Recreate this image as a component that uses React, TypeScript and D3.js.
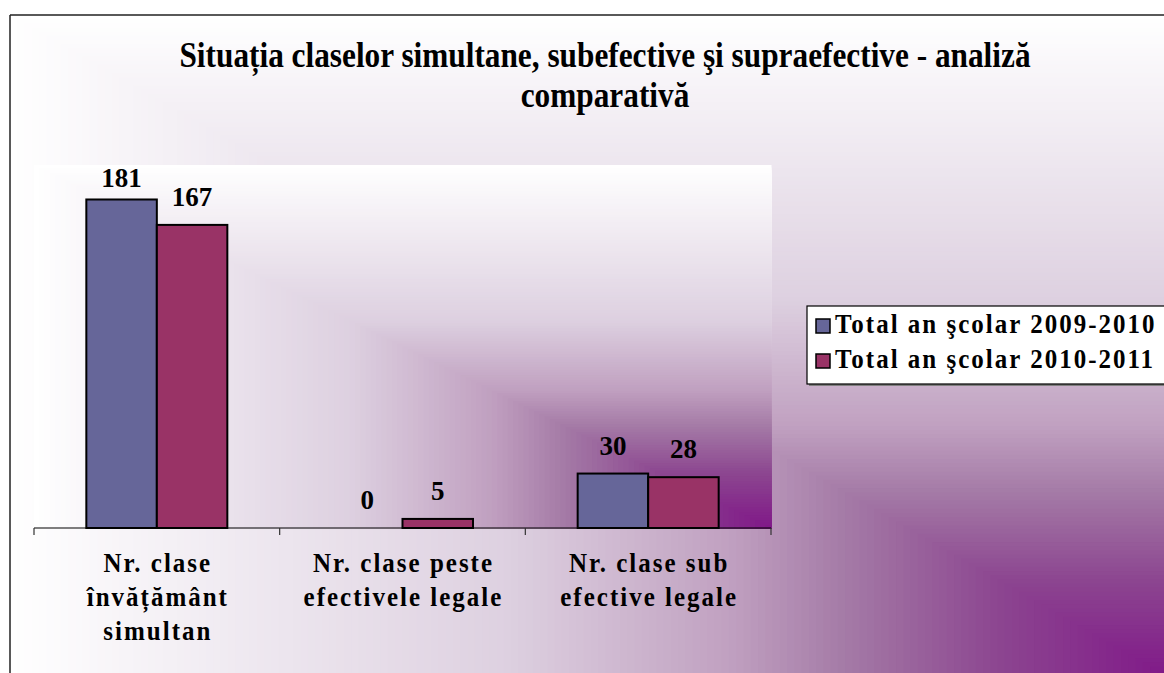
import React from "react";
import * as d3 from "d3";

// ---- data ----
const categories: string[][] = [
  ["Nr. clase", "învățământ", "simultan"],
  ["Nr. clase peste", "efectivele legale"],
  ["Nr. clase sub", "efective legale"],
];
const series2009: number[] = [181, 0, 30];
const series2010: number[] = [167, 5, 28];
const seriesNames: string[] = ["Total an şcolar 2009-2010", "Total an şcolar 2010-2011"];
const seriesColors: string[] = ["#666699", "#993366"];
const titleLines: string[] = [
  "Situația claselor simultane, subefective şi supraefective - analiză",
  "comparativă",
];
const yDomain: number[] = [0, 200];

// background ramp (white -> purple)
const rampStops = [0, 0.43, 0.62, 0.72, 0.85, 1];
const rampColors = ["#ffffff", "#ddd0e0", "#c0a0c0", "#a47aa6", "#8c4690", "#801888"];

const FONT = "'Liberation Serif', 'Times New Roman', Times, serif";

const ramp = d3
  .scaleLinear<string>()
  .domain(rampStops)
  .range(rampColors)
  .interpolate(d3.interpolateRgb)
  .clamp(true);

function cornerGradient(x0: number, y0: number, x1: number, y1: number, n: number, key: string) {
  const w = x1 - x0;
  const h = y1 - y0;
  return d3.range(n).map((k) => {
    const c = k / n;
    return (
      <rect
        key={key + k}
        x={x0 + c * w}
        y={y0 + c * h}
        width={w * (1 - c) + 0.5}
        height={h * (1 - c) + 0.5}
        fill={ramp((k + 0.5) / n)}
      />
    );
  });
}

function StretchText(props: {
  x: number;
  y: number;
  sy: number;
  anchor?: string;
  size: number;
  ls?: number;
  children: React.ReactNode;
}) {
  return (
    <text
      transform={`translate(${props.x},${props.y}) scale(1,${props.sy})`}
      x={0}
      y={0}
      textAnchor={props.anchor || "start"}
      fontSize={props.size}
      fontWeight="bold"
      letterSpacing={props.ls || 0}
      fill="#000"
    >
      {props.children}
    </text>
  );
}

export default function App() {
  const W = 1164;
  const H = 673;
  const plot = { x0: 34, x1: 771, y0: 165, y1: 528 };

  const x = d3
    .scaleBand<number>()
    .domain(d3.range(categories.length))
    .range([plot.x0, plot.x1])
    .paddingInner(0.426)
    .paddingOuter(0.213);
  const xs = d3.scaleBand<number>().domain([0, 1]).range([0, x.bandwidth()]);
  const y = d3.scaleLinear().domain(yDomain).range([plot.y1, plot.y0]);

  const step = x.step();
  const tickXs = d3.range(categories.length + 1).map((i) => plot.x0 + i * step);
  const series = [series2009, series2010];

  return (
    <svg
      width={W}
      height={H}
      style={{ position: "absolute", left: 0, top: 0, background: "#ffffff" }}
      fontFamily={FONT}
    >
      {/* outer chart area */}
      {cornerGradient(10, 15, 1172, 679, 160, "o")}
      <line x1={10} y1={15} x2={W} y2={15} stroke="#222" strokeWidth={1.5} />
      <line x1={10} y1={15} x2={10} y2={H} stroke="#222" strokeWidth={1.5} />

      {/* plot area */}
      {cornerGradient(plot.x0, plot.y0, plot.x1, plot.y1, 140, "p")}

      {/* title */}
      {titleLines.map((t, i) => (
        <StretchText key={t} x={605} y={67 + i * 40} sy={1.12} anchor="middle" size={31.3}>
          {t}
        </StretchText>
      ))}

      {/* bars */}
      {series.map((vals, si) =>
        vals.map((v, ci) => {
          const bx = (x(ci) as number) + (xs(si) as number);
          const by = y(v);
          return v > 0 ? (
            <rect
              key={`b${si}-${ci}`}
              x={bx}
              y={by}
              width={xs.bandwidth()}
              height={y(0) - by}
              fill={seriesColors[si]}
              stroke="#000"
              strokeWidth={2}
            />
          ) : null;
        })
      )}

      {/* axis */}
      <line x1={plot.x0} y1={plot.y1} x2={plot.x1} y2={plot.y1} stroke="#000" strokeWidth={1.2} />
      {tickXs.map((tx, i) => (
        <line key={"t" + i} x1={tx} y1={plot.y1} x2={tx} y2={plot.y1 + 7} stroke="#333" strokeWidth={1.2} />
      ))}

      {/* data labels */}
      {series.map((vals, si) =>
        vals.map((v, ci) => {
          const cx = (x(ci) as number) + (xs(si) as number) + xs.bandwidth() / 2;
          const ly = Math.max(y(v) - 19, plot.y0 + 22);
          return (
            <StretchText key={`l${si}-${ci}`} x={cx} y={ly} sy={1.05} anchor="middle" size={27}>
              {v}
            </StretchText>
          );
        })
      )}

      {/* category labels */}
      {categories.map((lines, ci) => {
        const cx = (x(ci) as number) + x.bandwidth() / 2;
        return lines.map((ln, li) => (
          <StretchText key={`c${ci}-${li}`} x={cx + 1} y={572 + li * 34} sy={1.05} anchor="middle" size={25} ls={2}>
            {ln}
          </StretchText>
        ));
      })}

      {/* legend */}
      <rect x={809} y={308} width={400} height={78} fill="#808080" />
      <rect x={807} y={306} width={400} height={78} fill="#ffffff" stroke="#000" strokeWidth={1.2} />
      {seriesNames.map((name, i) => (
        <g key={name}>
          <rect
            x={816}
            y={319 + i * 35}
            width={14}
            height={14}
            fill={seriesColors[i]}
            stroke="#000"
            strokeWidth={1.5}
          />
          <StretchText x={835} y={333 + i * 35} sy={1.12} size={25} ls={2}>
            {name}
          </StretchText>
        </g>
      ))}
    </svg>
  );
}
